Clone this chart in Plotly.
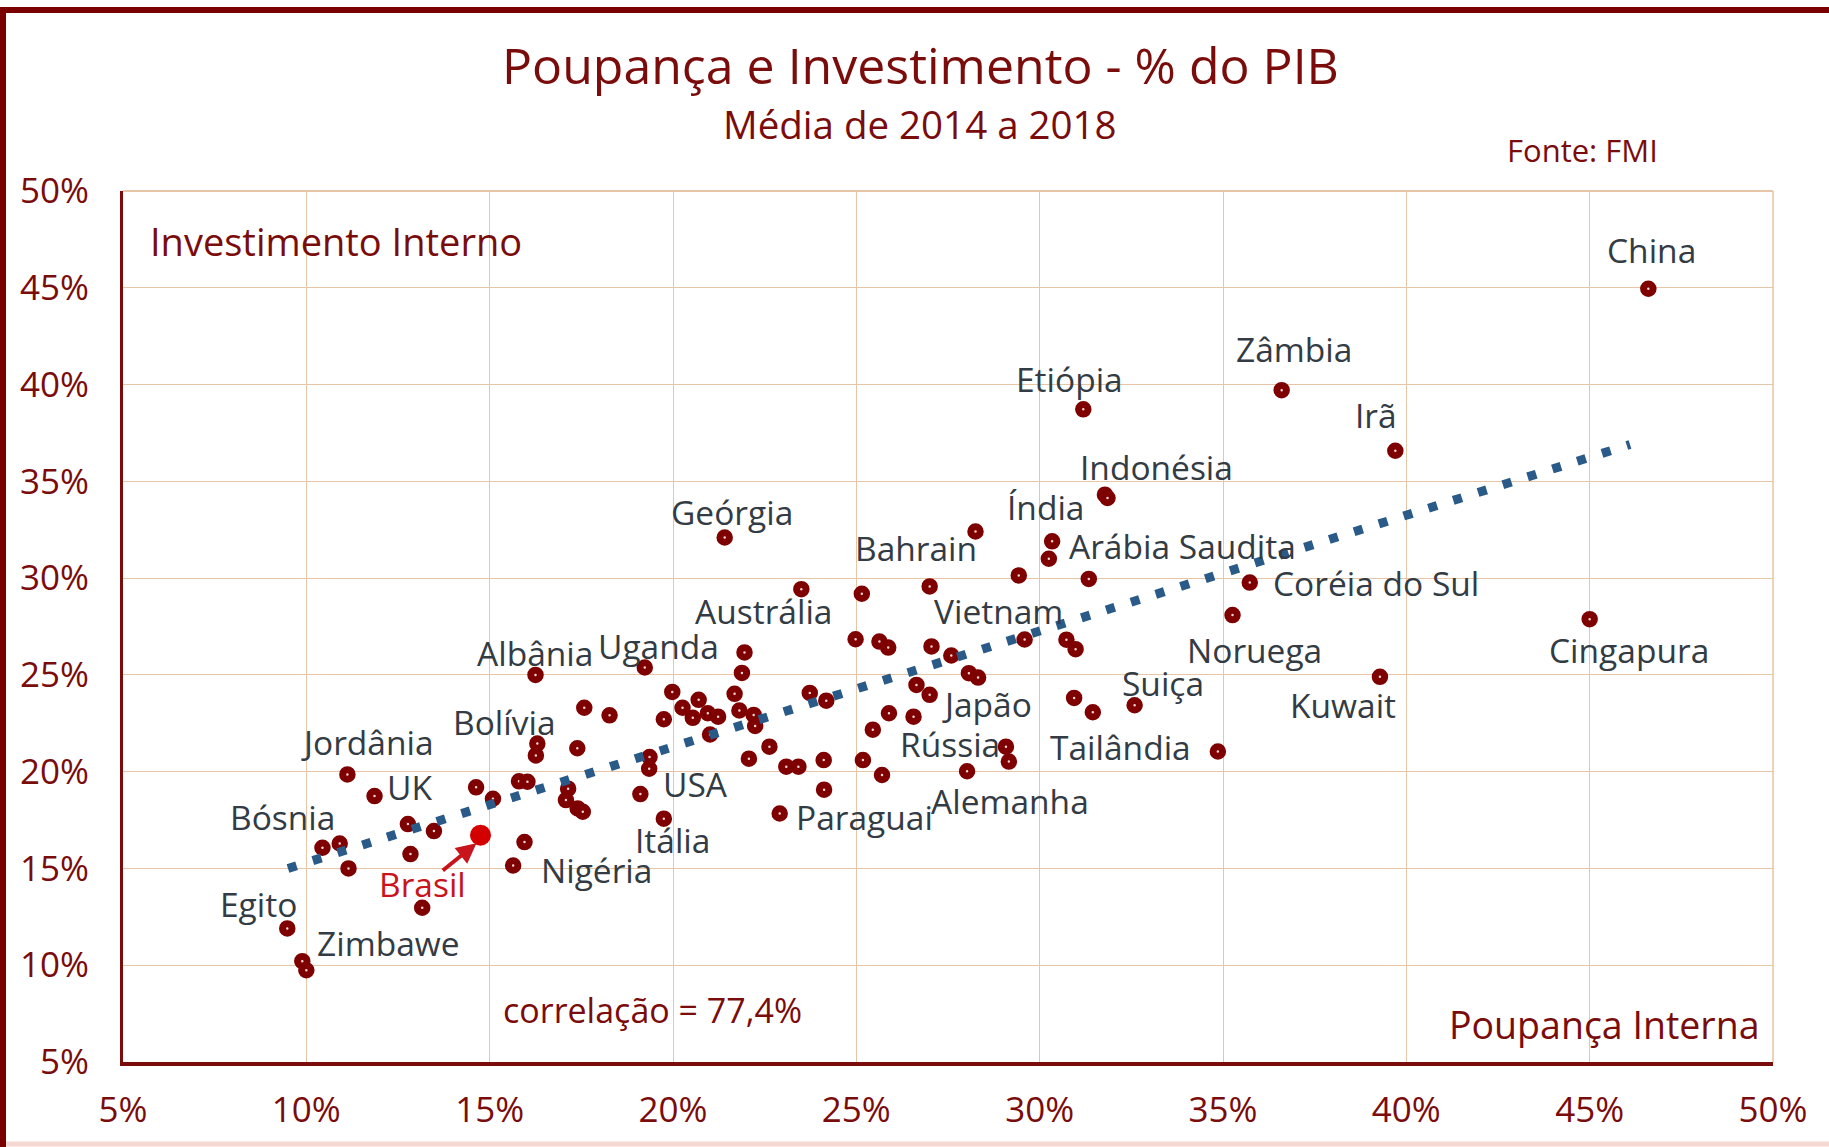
import plotly.graph_objects as go

# ---------------- data (savings, investment, % of GDP) ----------------
poupanca = [
    9.48, 9.89, 10.0, 10.44, 10.91, 11.15, 11.12, 11.86, 12.77, 12.84,
    13.48, 13.16, 14.63, 15.09, 15.95, 15.64, 15.80, 16.03, 16.30, 16.26,
    16.25, 17.39, 17.58, 18.27, 17.14, 17.08, 17.40, 17.54, 19.23, 19.36,
    19.35, 19.11, 19.75, 19.98, 19.75, 20.26, 20.70, 20.54, 20.95, 21.23,
    21.01, 21.41, 21.95, 21.88, 21.68, 21.81, 22.20, 22.24, 22.63, 22.07,
    23.09, 23.42, 22.91, 24.11, 24.12, 23.73, 24.18, 23.50, 25.15, 24.98,
    25.63, 25.87, 27.05, 27.59, 26.64, 27.00, 25.89, 26.56, 25.45, 25.18,
    25.70, 27.00, 28.25, 29.43, 30.34, 30.25, 31.34, 31.78, 31.85, 29.59,
    30.73, 30.98, 28.07, 28.32, 29.08, 29.16, 28.02, 30.94, 31.45, 32.59,
    34.86, 31.19, 36.60, 39.70, 35.73, 35.26, 46.60, 45.00, 39.28,
]
investimento = [
    11.90, 10.21, 9.74, 16.07, 16.29, 15.00, 19.86, 18.74, 17.29, 15.74,
    16.93, 12.97, 19.19, 18.60, 16.36, 15.15, 19.50, 19.48, 21.45, 20.84,
    25.00, 21.21, 23.30, 22.91, 19.12, 18.53, 18.10, 17.93, 25.38, 20.76,
    20.15, 18.84, 17.57, 24.12, 22.71, 23.30, 23.71, 22.78, 23.02, 22.84,
    21.92, 32.10, 26.16, 25.10, 24.02, 23.16, 22.93, 22.36, 21.29, 20.67,
    20.26, 20.26, 17.84, 20.60, 19.07, 24.07, 23.67, 29.43, 29.19, 26.84,
    26.72, 26.41, 26.47, 26.00, 24.48, 23.97, 23.02, 22.84, 22.17, 20.60,
    19.83, 29.57, 32.41, 30.14, 31.90, 31.00, 29.96, 34.31, 34.14, 26.83,
    26.82, 26.33, 25.09, 24.86, 21.29, 20.52, 20.02, 23.81, 23.07, 23.43,
    21.04, 38.72, 39.71, 36.58, 29.77, 28.09, 44.95, 27.88, 24.90,
]

brasil_x = [14.75]
brasil_y = [16.72]

# linear trend (Excel trendline) end points
trend_x = [9.5, 46.1]
trend_y = [15.0, 36.9]

ticks = [5, 10, 15, 20, 25, 30, 35, 40, 45, 50]
tick_text = ["5%", "10%", "15%", "20%", "25%", "30%", "35%", "40%", "45%", "50%"]

paises = ["China", "Zâmbia", "Etiópia", "Irã", "Indonésia", "Geórgia", "Índia",
          "Bahrain", "Arábia Saudita", "Coréia do Sul", "Austrália", "Vietnam",
          "Albânia", "Uganda", "Noruega", "Cingapura", "Suiça", "Japão", "Kuwait",
          "Bolívia", "Jordânia", "Rússia", "Tailândia", "UK", "USA", "Paraguai",
          "Alemanha", "Bósnia", "Itália", "Nigéria", "Egito", "Zimbawe"]

correlacao = "77,4%"

# ---------------- label placement (layout only) ----------------
label_pos = {
    "China": (46.68, 46.95), "Zâmbia": (36.94, 41.82), "Etiópia": (30.80, 40.30),
    "Irã": (39.17, 38.45), "Indonésia": (33.18, 35.73), "Geórgia": (21.62, 33.43),
    "Índia": (30.17, 33.67), "Bahrain": (26.64, 31.56), "Arábia Saudita": (33.89, 31.68),
    "Coréia do Sul": (39.17, 29.75), "Austrália": (22.47, 28.30), "Vietnam": (28.87, 28.30),
    "Albânia": (16.24, 26.13), "Uganda": (19.61, 26.49), "Noruega": (35.86, 26.31),
    "Cingapura": (46.07, 26.31), "Suiça": (33.35, 24.56), "Japão": (28.55, 23.50),
    "Kuwait": (38.28, 23.47), "Bolívia": (15.41, 22.57), "Jordânia": (11.66, 21.54),
    "Rússia": (27.56, 21.45), "Tailândia": (32.21, 21.30), "UK": (12.80, 19.19),
    "USA": (20.60, 19.37), "Paraguai": (25.21, 17.68), "Alemanha": (29.18, 18.47),
    "Bósnia": (9.34, 17.68), "Itália": (19.99, 16.47), "Nigéria": (17.92, 14.90),
    "Egito": (8.70, 13.15), "Zimbawe": (12.23, 11.16),
}
brasil_label_pos = (13.18, 14.18)
brasil_arrow_tail = (13.68, 14.83)
brasil_arrow_head = (14.64, 16.30)

W, H = 1829, 1147
L, R, T, B = 123, 56, 191, 85

def px_x(p):
    return (p - L) / (W - L - R)

def px_y(p):
    return (H - B - p) / (H - T - B)

FONT = "Open Sans, Lato, sans-serif"
DARKRED = "#7A0C0C"
GRID = "#E6C6A6"
LABEL = "#333B44"

fig = go.Figure()

fig.add_trace(go.Scatter(
    x=poupanca, y=investimento, mode="markers",
    marker=dict(size=9.5, color="#F6D6D6", line=dict(color="#7E0000", width=7)),
    hoverinfo="x+y", showlegend=False))

fig.add_trace(go.Scatter(
    x=brasil_x, y=brasil_y, mode="markers",
    marker=dict(size=21, color="#D40000"),
    showlegend=False))

fig.add_trace(go.Scatter(
    x=trend_x, y=trend_y, mode="lines",
    line=dict(color="#2A5A88", width=9, dash="9px,17px"),
    showlegend=False))

annotations = []
for name in paises:
    lx, ly = label_pos[name]
    annotations.append(dict(x=lx, y=ly, xref="x", yref="y", text=name,
                            showarrow=False, xanchor="center", yanchor="middle",
                            font=dict(family=FONT, size=33.5, color=LABEL)))

annotations.append(dict(x=brasil_label_pos[0], y=brasil_label_pos[1], xref="x", yref="y",
                        text="Brasil", showarrow=False, xanchor="center", yanchor="middle",
                        font=dict(family=FONT, size=33.5, color="#C8141C")))
annotations.append(dict(x=brasil_arrow_head[0], y=brasil_arrow_head[1], xref="x", yref="y",
                        ax=brasil_arrow_tail[0], ay=brasil_arrow_tail[1], axref="x", ayref="y",
                        text="", showarrow=True, arrowhead=2, arrowsize=1,
                        arrowwidth=4, arrowcolor="#C8141C"))

annotations += [
    dict(x=px_x(920), y=px_y(65), xref="paper", yref="paper",
         text="Poupança e Investimento - % do PIB", showarrow=False,
         xanchor="center", yanchor="middle",
         font=dict(family=FONT, size=50, color=DARKRED)),
    dict(x=px_x(920), y=px_y(124), xref="paper", yref="paper",
         text="Média de 2014 a 2018", showarrow=False,
         xanchor="center", yanchor="middle",
         font=dict(family=FONT, size=38.5, color=DARKRED)),
    dict(x=px_x(1582), y=px_y(150), xref="paper", yref="paper",
         text="Fonte: FMI", showarrow=False, xanchor="center", yanchor="middle",
         font=dict(family=FONT, size=31, color=DARKRED)),
    dict(x=px_x(148), y=px_y(241), xref="paper", yref="paper",
         text="Investimento Interno", showarrow=False, xanchor="left", yanchor="middle",
         font=dict(family=FONT, size=38, color=DARKRED)),
    dict(x=px_x(1762), y=px_y(1024), xref="paper", yref="paper",
         text="Poupança Interna", showarrow=False, xanchor="right", yanchor="middle",
         font=dict(family=FONT, size=37.5, color=DARKRED)),
    dict(x=px_x(652), y=px_y(1010), xref="paper", yref="paper",
         text="correlação = " + correlacao, showarrow=False,
         xanchor="center", yanchor="middle",
         font=dict(family=FONT, size=34, color=DARKRED)),
]

shapes = [
    # frame (top, left, faint bottom)
    dict(type="line", xref="paper", yref="paper", x0=px_x(0), x1=px_x(W), y0=px_y(10), y1=px_y(10),
         line=dict(color="#7A0000", width=6)),
    dict(type="line", xref="paper", yref="paper", x0=px_x(3), x1=px_x(3), y0=px_y(8), y1=px_y(H + 5),
         line=dict(color="#7A0000", width=6)),
    dict(type="line", xref="paper", yref="paper", x0=px_x(6), x1=px_x(W), y0=px_y(H - 3), y1=px_y(H - 3),
         line=dict(color="#F6D8D2", width=5)),
    # top and right grid borders
    dict(type="line", xref="paper", yref="paper", x0=0, x1=1, y0=1, y1=1,
         line=dict(color=GRID, width=2), layer="below"),
    dict(type="line", xref="paper", yref="paper", x0=1, x1=1, y0=0, y1=1,
         line=dict(color=GRID, width=1.5), layer="below"),
]

axis_common = dict(
    range=[5, 50], tickvals=ticks, ticktext=tick_text,
    showgrid=True, gridcolor=GRID, gridwidth=1.2,
    zeroline=False, showline=True, linecolor=DARKRED,
    ticks="", ticklen=0, tickfont=dict(family=FONT, size=35, color=DARKRED),
    fixedrange=True, automargin=False,
)

fig.update_layout(
    width=W, height=H,
    margin=dict(l=L, r=R, t=T, b=B, autoexpand=False),
    paper_bgcolor="white", plot_bgcolor="white",
    xaxis=dict(**axis_common, linewidth=4, ticklabelstandoff=14),
    yaxis=dict(**axis_common, linewidth=3, ticklabelstandoff=24),
    annotations=annotations, shapes=shapes,
    showlegend=False,
)

fig.write_html("out.html", config={"displayModeBar": False},
               post_script="document.body.style.margin='0px';document.body.style.overflow='hidden';")
